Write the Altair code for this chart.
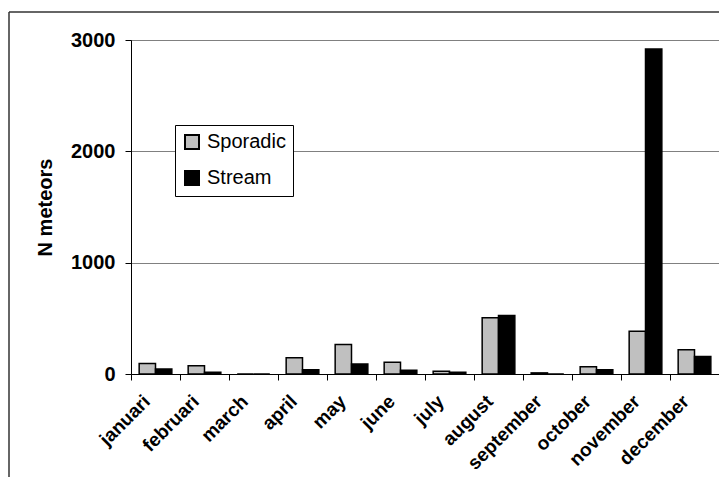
import altair as alt
import pandas as pd

months = ["januari", "februari", "march", "april", "may", "june", "july",
          "august", "september", "october", "november", "december"]
sporadic = [95, 75, 0, 145, 265, 105, 25, 505, 10, 65, 385, 218]
stream = [45, 15, 0, 38, 90, 33, 15, 525, 0, 38, 2920, 158]
series_names = ["Sporadic", "Stream"]
series_colors = ["#c0c0c0", "#000000"]
y_ticks = [0, 1000, 2000, 3000]

rows = []
for m, s, t in zip(months, sporadic, stream):
    rows.append({"month": m, "series": "Sporadic", "value": s})
    rows.append({"month": m, "series": "Stream", "value": t})
df = pd.DataFrame(rows)

FONT = "Liberation Sans"

bars = alt.Chart(df).mark_bar(stroke="black", strokeWidth=1.5).encode(
    x=alt.X("month:N", sort=months,
            scale=alt.Scale(paddingInner=0, paddingOuter=0),
            axis=alt.Axis(title=None, labelAngle=-45, labelAlign="right",
                          labelBaseline="middle", labelFont=FONT,
                          labelFontSize=19, labelFontWeight="bold",
                          labelColor="black", labelPadding=18, labelOffset=-9,
                          tickBand="extent", tickSize=6, tickColor="black",
                          domainColor="black", grid=False,
                          labelOverlap=False, labelBound=False)),
    xOffset=alt.XOffset("series:N", sort=series_names,
                        scale=alt.Scale(paddingOuter=0.5, paddingInner=0)),
    y=alt.Y("value:Q", scale=alt.Scale(domain=[0, 3000], nice=False),
            axis=alt.Axis(values=y_ticks, format="d", title="N meteors",
                          labelFont=FONT,
                          labelFontSize=20, labelFontWeight="bold",
                          labelColor="black", labelPadding=10, tickSize=6,
                          tickColor="black", domainColor="black",
                          gridColor="#808080", gridWidth=1,
                          titleFont=FONT, titleFontSize=20,
                          titleFontWeight="bold", titleColor="black",
                          titleX=-86, titleY=167, titleAngle=270,
                          titleAlign="center", titleBaseline="middle")),
    color=alt.Color("series:N", sort=series_names,
                    scale=alt.Scale(domain=series_names, range=series_colors),
                    legend=alt.Legend(title=None, orient="none", legendX=44,
                                      legendY=85, symbolType="square",
                                      symbolSize=196, symbolStrokeColor="black",
                                      symbolStrokeWidth=2, labelFont=FONT,
                                      labelFontSize=20, labelColor="black",
                                      labelOffset=5, strokeColor="black",
                                      fillColor="white", padding=7,
                                      rowPadding=14)),
)

frame_df = pd.DataFrame({"k": [0]})
left_frame = alt.Chart(frame_df).mark_rule(color="#333333", strokeWidth=1.5).encode(
    x=alt.value(-122), y=alt.value(-28), y2=alt.value(520))
top_frame = alt.Chart(frame_df).mark_rule(color="#333333", strokeWidth=1.5).encode(
    x=alt.value(-122), x2=alt.value(700), y=alt.value(-28))

chart = alt.layer(left_frame, top_frame, bars).properties(
    width=588, height=334,
    padding={"left": 123, "top": 32, "right": 0, "bottom": 103},
    autosize="none",
).configure_view(stroke="#808080", strokeWidth=1)

chart.save("out.html", embed_options={"renderer": "svg", "actions": False})
